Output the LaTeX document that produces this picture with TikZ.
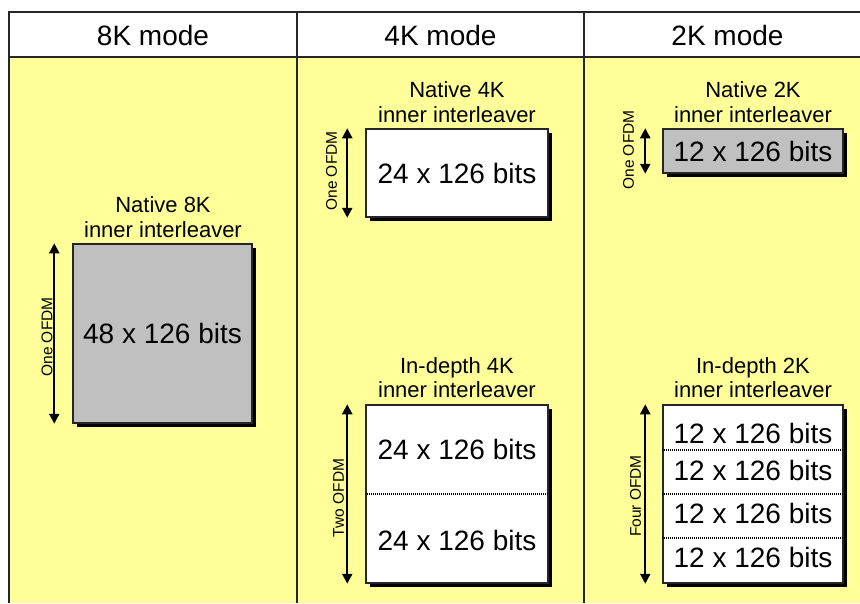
\documentclass[tikz,border=0pt]{standalone}
\usepackage{fontspec}
\setmainfont{Liberation Sans}
\usetikzlibrary{arrows.meta,shadows}
\definecolor{bgyellow}{RGB}{255,255,153}
\definecolor{cellgray}{RGB}{192,192,192}
\definecolor{rulecol}{RGB}{38,38,38}
\begin{document}
\begin{tikzpicture}[x=1pt,y=-1pt,
  framed/.style={draw=rulecol,line width=1.5pt},
  hdr/.style={font=\fontsize{28}{32}\selectfont,anchor=base,inner sep=0pt},
  lbl/.style={font=\fontsize{22}{26}\selectfont,anchor=base,inner sep=0pt},
  bits/.style={font=\fontsize{28}{32}\selectfont,inner sep=0pt},
  side/.style={font=\fontsize{15.5}{18}\selectfont,rotate=90,inner sep=0pt},
  membox/.style={draw=rulecol,line width=1.5pt,inner sep=0pt,font=\fontsize{28}{32}\selectfont,
    drop shadow={shadow xshift=4pt,shadow yshift=-4pt,fill=black,opacity=1}},
  span/.style={line width=2.2pt,{Triangle[width=10pt,length=10pt]}-{Triangle[width=10pt,length=10pt]}},
  divider/.style={line width=1.8pt,dash pattern=on 1.2pt off 0.8pt},
]
\useasboundingbox (0,0) rectangle (860,603);
\fill[white] (0,0) rectangle (860,603);
\fill[bgyellow] (9,57) rectangle (860,603);
\draw[framed] (860,12) -- (9,12) -- (9,603);
\draw[framed] (9,57) -- (860,57);
\draw[framed] (297,12) -- (297,603);
\draw[framed] (584,12) -- (584,603);

% headers
\node[hdr] (h8) at (153,45) {8K mode};
\node[hdr] (h4) at (440.5,45) {4K mode};
\node[hdr] (h2) at (727.5,45) {2K mode};

% 8K column
\node[lbl] (n8a) at (163,212) {Native 8K};
\node[lbl] (n8b) at (163,237) {inner interleaver};
\node[membox,fill=cellgray,minimum width=179pt,minimum height=179pt] (b8) at (162.5,333.5) {48 x 126 bits};
\draw[span] ([xshift=-18pt]b8.north west) -- ([xshift=-18pt]b8.south west);
\node[side] (s8) at (47,337) {One OFDM};

% 4K column, native
\node[lbl] (n4a) at (457,97) {Native 4K};
\node[lbl] (n4b) at (457,122) {inner interleaver};
\node[membox,fill=white,minimum width=182pt,minimum height=88pt] (b4n) at (457,173) {24 x 126 bits};
\draw[span] ([xshift=-18pt]b4n.north west) -- ([xshift=-18pt]b4n.south west);
\node[side] (s4n) at (331.5,171) {One OFDM};

% 4K column, in-depth
\node[lbl] (d4a) at (457,373) {In-depth 4K};
\node[lbl] (d4b) at (457,397) {inner interleaver};
\node[membox,fill=white,minimum width=182pt,minimum height=178pt] (b4d) at (457,494) {};
\node[bits] (c4a) at (457,449) {24 x 126 bits};
\node[bits] (c4b) at (457,540) {24 x 126 bits};
\draw[divider] (b4d.west) -- (b4d.east);
\draw[span] ([xshift=-18pt]b4d.north west) -- ([xshift=-18pt]b4d.south west);
\node[side] (s4d) at (338.5,498) {Two OFDM};

% 2K column, native
\node[lbl] (n2a) at (753,97) {Native 2K};
\node[lbl] (n2b) at (753,122) {inner interleaver};
\node[membox,fill=cellgray,minimum width=180pt,minimum height=44pt] (b2n) at (753,151) {12 x 126 bits};
\draw[span] ([xshift=-17pt]b2n.north west) -- ([xshift=-17pt]b2n.south west);
\node[side] (s2n) at (628.5,150) {One OFDM};

% 2K column, in-depth
\node[lbl] (d2a) at (753,373) {In-depth 2K};
\node[lbl] (d2b) at (753,397) {inner interleaver};
\node[membox,fill=white,minimum width=180pt,minimum height=178pt] (b2d) at (753,494) {};
\node[bits] (c2a) at (753,433) {12 x 126 bits};
\node[bits] (c2b) at (753,470) {12 x 126 bits};
\node[bits] (c2c) at (753,513.5) {12 x 126 bits};
\node[bits] (c2d) at (753,557) {12 x 126 bits};
\draw[divider] ([yshift=44pt]b2d.west) -- ([yshift=44pt]b2d.east);
\draw[divider] (b2d.west) -- (b2d.east);
\draw[divider] ([yshift=-44pt]b2d.west) -- ([yshift=-44pt]b2d.east);
\draw[span] ([xshift=-17pt]b2d.north west) -- ([xshift=-17pt]b2d.south west);
\node[side] (s2d) at (635.5,496) {Four OFDM};
\end{tikzpicture}
\end{document}
